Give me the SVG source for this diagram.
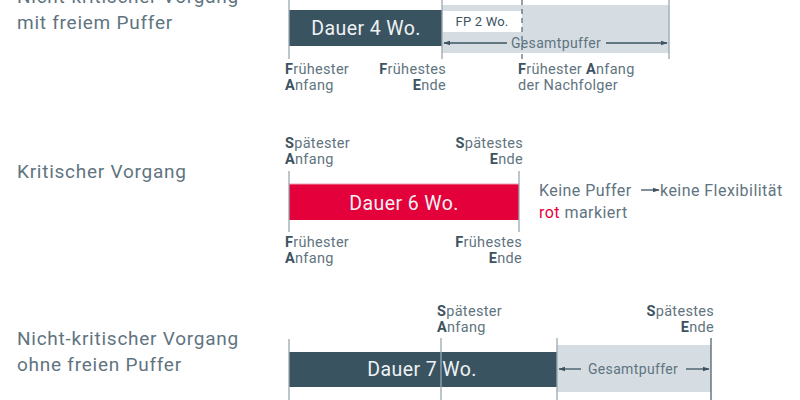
<svg xmlns="http://www.w3.org/2000/svg" width="800" height="400" viewBox="0 0 800 400">
<defs>
<style>
text{font-family:Roboto,"Liberation Sans",sans-serif}
.title{font-size:19px;fill:#5f7480;letter-spacing:0.75px}
.lbl{font-size:14.5px;fill:#5f7480;letter-spacing:0.3px}
.lbl tspan.b{font-weight:bold;fill:#3d5361}
.bar{font-size:19.5px;fill:#eef2f4;text-anchor:middle;letter-spacing:0.4px}
.tick{stroke:#9aa8b0;stroke-width:1.3}
.tickd{stroke:#4f6470;stroke-width:1.3}
.arr{stroke:#3d5361;stroke-width:1.3;fill:none}
.gp{font-size:14px;fill:#5f7480;text-anchor:middle;letter-spacing:0.35px}
.side{font-size:16px;fill:#5f7480;letter-spacing:0.45px}
.r{text-anchor:end}
</style>
<marker id="ah" viewBox="0 0 10 10" refX="9" refY="5" markerWidth="7" markerHeight="7" orient="auto-start-reverse" markerUnits="userSpaceOnUse">
<path d="M0,1.5 L10,5 L0,8.5 Z" fill="#3d5361"/>
</marker>
</defs>

<g id="section1">
<text class="title" x="17" y="3">Nicht-kritischer Vorgang</text>
<text class="title" x="17" y="29">mit freiem Puffer</text>
<rect x="442" y="5" width="227" height="48" fill="#d5dde3"/>
<rect x="443" y="11" width="79" height="21" fill="#ffffff"/>
<rect x="289" y="10" width="153" height="36" fill="#3a5360"/>
<text class="bar" x="366" y="35">Dauer 4 Wo.</text>
<text x="482" y="26" style="font-size:13px;fill:#3d5361;text-anchor:middle;letter-spacing:0.2px">FP 2 Wo.</text>
<line class="tick" x1="289" y1="0" x2="289" y2="59"/>
<line class="tick" x1="442" y1="0" x2="442" y2="59"/>
<line class="tick" x1="669" y1="0" x2="669" y2="59"/>
<line x1="522" y1="0" x2="522" y2="64" stroke="#4f6470" stroke-width="1.2" stroke-dasharray="5,4"/>
<text class="lbl" x="285" y="74"><tspan class="b">F</tspan>rühester</text>
<text class="lbl" x="285" y="90"><tspan class="b">A</tspan>nfang</text>
<text class="lbl r" x="446" y="74"><tspan class="b">F</tspan>rühestes</text>
<text class="lbl r" x="446" y="90"><tspan class="b">E</tspan>nde</text>
<text class="lbl" x="518" y="74"><tspan class="b">F</tspan>rühester <tspan class="b">A</tspan>nfang</text>
<text class="lbl" x="518" y="90">der Nachfolger</text>
</g>

<g id="section2">
<text class="title" x="17" y="178">Kritischer Vorgang</text>
<rect x="289" y="184" width="230" height="36" fill="#e4003a"/>
<line x1="289" y1="184" x2="519" y2="184" stroke="#f29ab0" stroke-width="1"/>
<text class="bar" x="404" y="210">Dauer 6 Wo.</text>
<line class="tick" x1="289" y1="171" x2="289" y2="232"/>
<line class="tick" x1="519" y1="171" x2="519" y2="232"/>
<text class="lbl" x="285" y="148"><tspan class="b">S</tspan>pätester</text>
<text class="lbl" x="285" y="164"><tspan class="b">A</tspan>nfang</text>
<text class="lbl r" x="523" y="148"><tspan class="b">S</tspan>pätestes</text>
<text class="lbl r" x="523" y="164"><tspan class="b">E</tspan>nde</text>
<text class="lbl" x="285" y="247"><tspan class="b">F</tspan>rühester</text>
<text class="lbl" x="285" y="263"><tspan class="b">A</tspan>nfang</text>
<text class="lbl r" x="522" y="247"><tspan class="b">F</tspan>rühestes</text>
<text class="lbl r" x="522" y="263"><tspan class="b">E</tspan>nde</text>
<text class="side" x="539" y="196">Keine Puffer</text>
<text class="side" x="539" y="218"><tspan fill="#e4003a">rot</tspan> markiert</text>
<text class="side" x="660" y="196">keine Flexibilität</text>
</g>

<g id="section3">
<text class="title" x="17" y="345">Nicht-kritischer Vorgang</text>
<text class="title" x="17" y="371">ohne freien Puffer</text>
<rect x="557" y="345" width="154" height="47" fill="#d5dde3"/>
<rect x="289" y="352" width="268" height="35" fill="#3a5360"/>
<text class="bar" x="422" y="376">Dauer 7 Wo.</text>
<line class="tick" x1="289" y1="339" x2="289" y2="400"/>
<line class="tick" x1="441" y1="338" x2="441" y2="400"/>
<line class="tick" x1="557" y1="338" x2="557" y2="400"/>
<line class="tickd" x1="711" y1="338" x2="711" y2="400"/>
<text class="lbl" x="437" y="316"><tspan class="b">S</tspan>pätester</text>
<text class="lbl" x="437" y="332"><tspan class="b">A</tspan>nfang</text>
<text class="lbl r" x="714" y="316"><tspan class="b">S</tspan>pätestes</text>
<text class="lbl r" x="714" y="332"><tspan class="b">E</tspan>nde</text>
<text class="gp" x="633" y="374">Gesamtpuffer</text>
</g>

<g id="connectors">
<path class="arr" d="M507,43 H444" marker-end="url(#ah)"/>
<path class="arr" d="M606,43 H667" marker-end="url(#ah)"/>
<text class="gp" x="556" y="48">Gesamtpuffer</text>
<path class="arr" d="M641,190 H659" marker-end="url(#ah)"/>
<path class="arr" d="M581,369 H559" marker-end="url(#ah)"/>
<path class="arr" d="M686,369 H709" marker-end="url(#ah)"/>
</g>
</svg>
